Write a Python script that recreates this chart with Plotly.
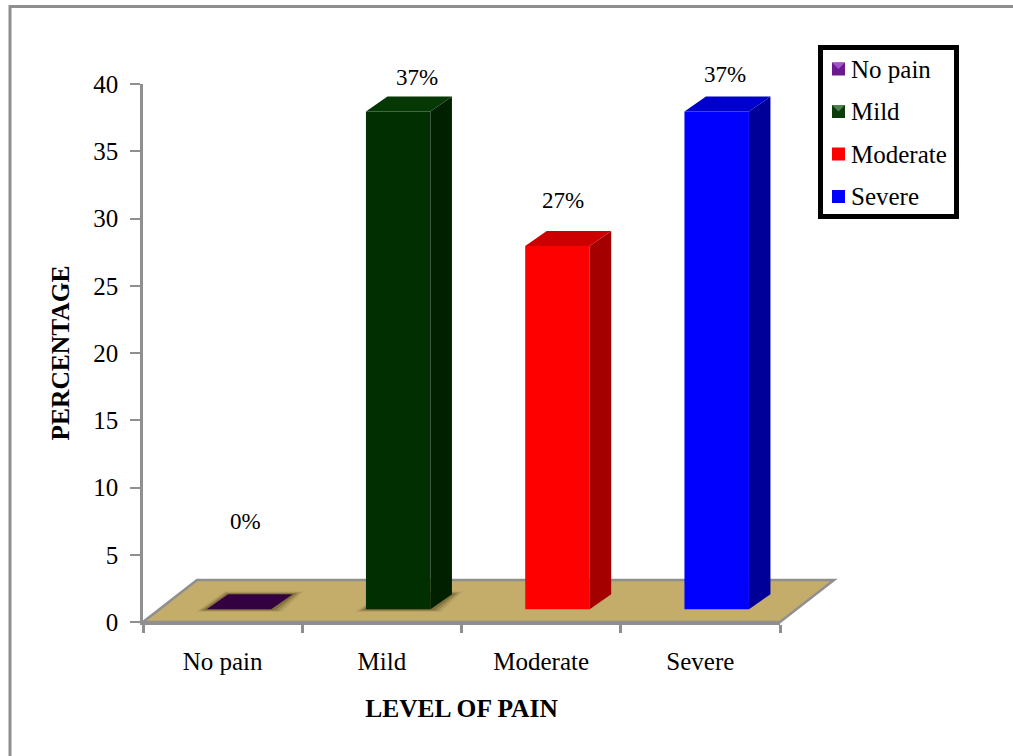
import plotly.graph_objects as go

# Pain survey results
categories = ["No pain", "Mild", "Moderate", "Severe"]
percentages = [0, 37, 27, 37]
label_lift_px = [101, 47, 58, 50]
label_nudge_px = [7, 19, 6, 8]
front_colors = ["#330040", "#012f01", "#ff0000", "#0000ff"]
side_colors = ["#22002c", "#002000", "#a40000", "#000099"]
top_colors = ["#330040", "#053805", "#cc0000", "#0000cc"]
legend_colors = ["#6a1a8c", "#0b3d0b", "#ff0000", "#0000ff"]
legend_glints = ["#a452c8", "#4f7f4f", None, None]
y_ticks = [0, 5, 10, 15, 20, 25, 30, 35, 40]

W, H = 1013, 756
PLOT_L, PLOT_R, PLOT_T, PLOT_B = 143, 780, 84, 622
SERIF = "Liberation Serif"
AXIS_GREY = "#8f8f8f"

# Oblique projection used for the pseudo-3D look, in axis units
X_PER_PX = 4 / (PLOT_R - PLOT_L)
Y_PER_PX = 40 / (PLOT_B - PLOT_T)
bar_shift = 0.1025
bar_width = 0.405
bar_base = 0.95
depth_x = 21.5 * X_PER_PX
depth_y = 15 * Y_PER_PX
floor_x = 54 * X_PER_PX
floor_y = 42 * Y_PER_PX
x0, x1 = -0.5, 3.5


def px(x):
    """Page pixel to paper fraction of the plot area."""
    return (x - PLOT_L) / (PLOT_R - PLOT_L)


def py(y):
    return (PLOT_B - y) / (PLOT_B - PLOT_T)


def data_path(points):
    """Closed SVG path in paper fractions, from (x, y) axis-unit points."""
    parts = [f"{(x - x0) / (x1 - x0):.5f},{y / 40:.5f}" for x, y in points]
    return "M" + " L".join(parts) + " Z"


def polygon(xs, ys, color):
    return go.Scatter(
        x=xs + xs[:1], y=ys + ys[:1], mode="lines", fill="toself",
        fillcolor=color, line=dict(color=color, width=0),
        hoverinfo="skip", showlegend=False, cliponaxis=False,
    )


fig = go.Figure()
shapes = []
annotations = []

# Outer frame, running off the right and bottom of the page
shapes.append(dict(
    type="rect", xref="paper", yref="paper",
    x0=px(10), x1=px(1060), y0=py(6.5), y1=py(800),
    line=dict(color=AXIS_GREY, width=3), layer="below",
))

# Floor
shapes.append(dict(
    type="path", xref="paper", yref="paper", layer="below",
    path=data_path([(x0, 0), (x0 + floor_x, floor_y), (x1 + floor_x, floor_y), (x1, 0)]),
    fillcolor="#c4ad6b", line=dict(color=AXIS_GREY, width=2.5),
))

# Soft contact shadows below the two darkest bars
for i in (0, 1):
    left = i + bar_shift - bar_width / 2
    right = left + bar_width
    for grow, alpha in ((0.065, 0.10), (0.045, 0.16), (0.025, 0.22)):
        shapes.append(dict(
            type="path", xref="paper", yref="paper", layer="below",
            path=data_path([
                (left - grow, bar_base - grow * 3),
                (left + depth_x - grow / 3, bar_base + depth_y + grow * 3),
                (right + depth_x + grow, bar_base + depth_y + grow * 3),
                (right + grow, bar_base - grow * 3),
            ]),
            fillcolor=f"rgba(40,30,0,{alpha})", line=dict(width=0),
        ))

# Front faces
for i, (cat, val) in enumerate(zip(categories, percentages)):
    fig.add_trace(go.Bar(
        x=[i + bar_shift], y=[val], base=bar_base, width=bar_width, name=cat,
        marker=dict(color=front_colors[i], line=dict(width=0)),
        showlegend=False, hovertemplate=f"{cat}: {val}%<extra></extra>",
    ))

# Side and top faces
for i, val in enumerate(percentages):
    left = i + bar_shift - bar_width / 2
    right = left + bar_width
    top = bar_base + val
    if val > 0:
        fig.add_trace(polygon(
            [right, right + depth_x, right + depth_x, right],
            [bar_base, bar_base + depth_y, top + depth_y, top],
            side_colors[i],
        ))
    fig.add_trace(polygon(
        [left, left + depth_x, right + depth_x, right],
        [top, top + depth_y, top + depth_y, top],
        top_colors[i],
    ))

# Value labels, anchored on each value and lifted clear of the bar
for i, val in enumerate(percentages):
    annotations.append(dict(
        xref="x", yref="y", x=i + bar_shift, y=val,
        xshift=label_nudge_px[i], yshift=label_lift_px[i], text=f"{val}%",
        showarrow=False, xanchor="center", yanchor="middle",
        font=dict(family=SERIF, size=23, color="black"),
    ))

# Legend box
shapes.append(dict(
    type="rect", xref="paper", yref="paper",
    x0=px(820.5), x1=px(956.5), y0=py(47.5), y1=py(216.5),
    line=dict(color="black", width=5), fillcolor="white", layer="above",
))
for i, cat in enumerate(categories):
    cy = 69 + 42.5 * i
    shapes.append(dict(
        type="rect", xref="paper", yref="paper", layer="above",
        x0=px(832), x1=px(845), y0=py(cy - 6.5), y1=py(cy + 6.5),
        line=dict(width=0), fillcolor=legend_colors[i],
    ))
    if legend_glints[i]:
        shapes.append(dict(
            type="path", xref="paper", yref="paper", layer="above",
            path=f"M{px(832)},{py(cy - 6.5)} L{px(845)},{py(cy - 6.5)} L{px(838.5)},{py(cy)} Z",
            fillcolor=legend_glints[i], line=dict(width=0),
        ))
    annotations.append(dict(
        xref="paper", yref="paper", x=px(848.5), y=py(cy), text=cat,
        showarrow=False, xanchor="left", yanchor="middle",
        font=dict(family=SERIF, size=25, color="black"),
    ))

fig.update_layout(
    width=W, height=H, autosize=False,
    margin=dict(l=PLOT_L, r=W - PLOT_R, t=PLOT_T, b=H - PLOT_B, pad=0),
    paper_bgcolor="white", plot_bgcolor="rgba(0,0,0,0)",
    barmode="overlay", showlegend=False,
    shapes=shapes, annotations=annotations,
    xaxis=dict(
        range=[x0, x1], tickmode="array", tickvals=list(range(4)), ticktext=categories,
        ticks="", ticklabelstandoff=15, showgrid=False, zeroline=False,
        showline=True, linecolor=AXIS_GREY, linewidth=2.5,
        tickfont=dict(family=SERIF, size=25, color="black"),
        minor=dict(tick0=-0.5, dtick=1, ticks="outside", ticklen=8, tickcolor=AXIS_GREY,
                   tickwidth=2.5, showgrid=False),
        title=dict(text="<b>LEVEL OF PAIN</b>", standoff=26,
                   font=dict(family=SERIF, size=25.5, color="black")),
    ),
    yaxis=dict(
        range=[0, 40], tickmode="array", tickvals=y_ticks,
        ticks="outside", ticklen=10, tickcolor=AXIS_GREY, tickwidth=2,
        ticklabelstandoff=7,
        showgrid=False, zeroline=False, showline=True, linecolor=AXIS_GREY, linewidth=2.5,
        tickfont=dict(family=SERIF, size=25, color="black"),
        title=dict(text="<b>PERCENTAGE</b>", standoff=17,
                   font=dict(family=SERIF, size=25.5, color="black")),
    ),
)

fig.write_html("out.html", config=dict(displayModeBar=False))
